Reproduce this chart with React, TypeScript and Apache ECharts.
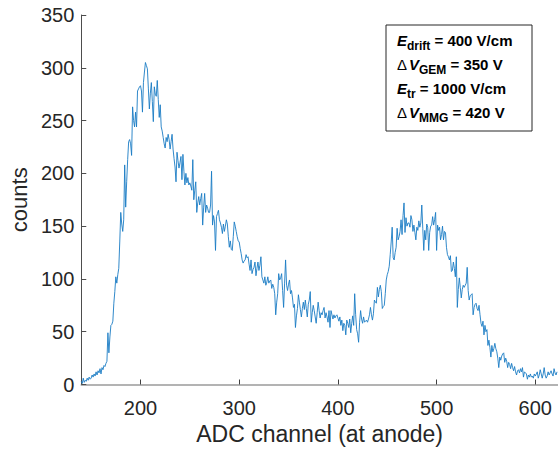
import React, { useEffect, useRef } from "react";
import * as echarts from "echarts";

const CHANNEL_START = 140;

const counts140_199 = [
  3, 1, 6, 2, 4, 3, 6, 4, 7, 5,
  6, 9, 7, 10, 8, 12, 9, 13, 11, 15,
  10, 16, 14, 18, 17, 20, 22, 49, 30, 45,
  56, 57, 60, 77, 88, 102, 96, 104, 110, 135,
  163, 152, 145, 156, 208, 168, 192, 213, 230, 232,
  228, 217, 263, 250, 244, 258, 244, 278, 280, 282,
];

const counts200_299 = [
  283, 278, 258, 286, 296, 305, 302, 299, 280, 261,
  276, 286, 268, 249, 282, 275, 273, 288, 270, 253,
  265, 244, 240, 234, 228, 224, 234, 230, 237, 232,
  223, 230, 237, 223, 214, 206, 192, 220, 212, 205,
  210, 216, 194, 218, 202, 189, 200, 191, 196, 189,
  191, 188, 184, 213, 175, 184, 192, 163, 172, 178,
  170, 176, 181, 151, 168, 181, 163, 170, 167, 163,
  163, 170, 202, 151, 160, 154, 127, 159, 162, 165,
  156, 153, 149, 143, 152, 145, 150, 156, 152, 140,
  130, 136, 128, 127, 140, 154, 150, 145, 140, 136,
];

const counts300_399 = [
  135, 129, 124, 118, 115, 117, 118, 123, 120, 121,
  114, 108, 118, 105, 109, 111, 116, 103, 110, 116,
  108, 113, 121, 102, 99, 96, 102, 94, 97, 102,
  96, 98, 99, 91, 95, 92, 86, 66, 78, 86,
  105, 99, 101, 105, 89, 73, 96, 118, 94, 89,
  95, 99, 86, 89, 82, 73, 76, 54, 65, 72,
  85, 78, 71, 64, 72, 78, 71, 80, 72, 64,
  76, 80, 88, 59, 68, 75, 70, 64, 58, 68,
  78, 70, 63, 68, 66, 70, 73, 63, 68, 64,
  59, 70, 54, 70, 66, 62, 66, 63, 65, 66,
];

const counts400_499 = [
  63, 60, 64, 56, 61, 51, 58, 56, 47, 61,
  58, 54, 62, 49, 58, 65, 56, 86, 66, 52,
  48, 40, 59, 70, 62, 58, 64, 59, 60, 61,
  59, 62, 66, 73, 66, 61, 67, 80, 78, 77,
  92, 83, 90, 94, 88, 72, 74, 75, 86, 99,
  104, 107, 112, 123, 135, 149, 120, 118, 125, 130,
  148, 137, 140, 145, 156, 142, 160, 172, 144, 158,
  150, 153, 153, 149, 160, 156, 145, 151, 144, 137,
  149, 146, 155, 149, 153, 170, 148, 127, 146, 137,
  152, 149, 127, 144, 150, 151, 159, 151, 156, 163,
];

const counts500_622 = [
  127, 151, 146, 149, 137, 142, 150, 137, 145, 144,
  130, 123, 121, 118, 122, 107, 108, 116, 110, 102,
  121, 73, 90, 101, 92, 82, 90, 94, 92, 94,
  96, 111, 89, 80, 84, 85, 86, 66, 73, 76,
  77, 72, 70, 75, 66, 58, 55, 60, 47, 56,
  50, 52, 37, 42, 35, 26, 37, 31, 34, 39,
  34, 31, 25, 16, 26, 23, 27, 29, 30, 21,
  25, 22, 16, 21, 19, 15, 20, 16, 13, 17,
  12, 9, 13, 14, 11, 15, 12, 16, 7, 12,
  11, 10, 5, 9, 7, 10, 7, 8, 6, 10,
  8, 10, 12, 6, 9, 14, 10, 6, 10, 16,
  9, 6, 8, 12, 9, 11, 13, 10, 8, 15,
  11, 9, 12,
];

const xTicks = [200, 300, 400, 500, 600];
const legendText =
  "{e|E}{s|drift}{n| = 400 V/cm}\n" +
  "{d|\u0394}{e|V}{s|GEM}{n| = 350 V}\n" +
  "{e|E}{s|tr}{n| = 1000 V/cm}\n" +
  "{d|\u0394}{e|V}{s|MMG}{n| = 420 V}";

const FONT = "'Liberation Sans', Arial, Helvetica, sans-serif";

export default function App() {
  const ref = useRef<HTMLDivElement>(null);

  useEffect(() => {
    if (!ref.current) return;
    const chart = echarts.init(ref.current, undefined, { renderer: "svg" });
    const counts = [
      ...counts140_199,
      ...counts200_299,
      ...counts300_399,
      ...counts400_499,
      ...counts500_622,
    ];
    const data = counts.map((c, i) => [CHANNEL_START + i, c]);

    chart.setOption({
      animation: false,
      backgroundColor: "#ffffff",
      textStyle: { fontFamily: FONT },
      grid: { left: 79, right: 0, top: 15, bottom: 67.5, containLabel: false },
      xAxis: {
        type: "value",
        min: 140,
        max: 623,
        name: "ADC channel (at anode)",
        nameLocation: "middle",
        nameGap: 37,
        nameTextStyle: { fontSize: 23, color: "#262626", fontFamily: FONT },
        axisLine: { show: true, lineStyle: { color: "#9a9a9a", width: 1.5 } },
        axisTick: {
          show: true,
          inside: true,
          length: 5,
          customValues: xTicks,
          lineStyle: { color: "#404040" },
        },
        axisLabel: {
          customValues: xTicks,
          fontSize: 20,
          color: "#262626",
          margin: 13,
          fontFamily: FONT,
        },
        splitLine: { show: false },
      },
      yAxis: {
        type: "value",
        min: 0,
        max: 350,
        interval: 50,
        name: "counts",
        nameLocation: "middle",
        nameGap: 48,
        nameTextStyle: { fontSize: 22, color: "#262626", fontFamily: FONT },
        axisLine: { show: true, lineStyle: { color: "#4d4d4d", width: 1 } },
        axisTick: { show: true, inside: true, length: 5, lineStyle: { color: "#4d4d4d" } },
        axisLabel: { fontSize: 20, color: "#262626", margin: 7, fontFamily: FONT },
        splitLine: { show: false },
      },
      series: [
        {
          type: "line",
          data,
          showSymbol: false,
          symbol: "none",
          lineStyle: { color: "#1a7cc4", width: 0.9 },
          itemStyle: { color: "#0072BD" },
        },
      ],
      graphic: [
        {
          type: "rect",
          shape: { x: 386, y: 25, width: 146, height: 106 },
          style: { fill: "#ffffff", stroke: "#262626", lineWidth: 1 },
          z: 10,
        },
        {
          type: "text",
          x: 397,
          y: 28,
          z: 11,
          style: {
            text: legendText,
            align: "left",
            verticalAlign: "top",
            fontFamily: FONT,
            fill: "#000000",
            rich: {
              e: {
                fontSize: 15,
                fontWeight: "bold",
                fontStyle: "italic",
                lineHeight: 24,
                verticalAlign: "middle",
                fontFamily: FONT,
                fill: "#000",
              },
              s: {
                fontSize: 12,
                fontWeight: "bold",
                lineHeight: 14,
                verticalAlign: "bottom",
                fontFamily: FONT,
                fill: "#000",
              },
              d: {
                fontSize: 15,
                lineHeight: 24,
                verticalAlign: "middle",
                fontFamily: FONT,
                fill: "#000",
                padding: [0, 2, 0, 0],
              },
              n: {
                fontSize: 15,
                fontWeight: "bold",
                lineHeight: 24,
                verticalAlign: "middle",
                fontFamily: FONT,
                fill: "#000",
              },
            },
          },
        },
      ],
    });

    return () => chart.dispose();
  }, []);

  return (
    <div
      ref={ref}
      style={{ position: "absolute", left: 0, top: 0, width: 558, height: 452 }}
    />
  );
}
